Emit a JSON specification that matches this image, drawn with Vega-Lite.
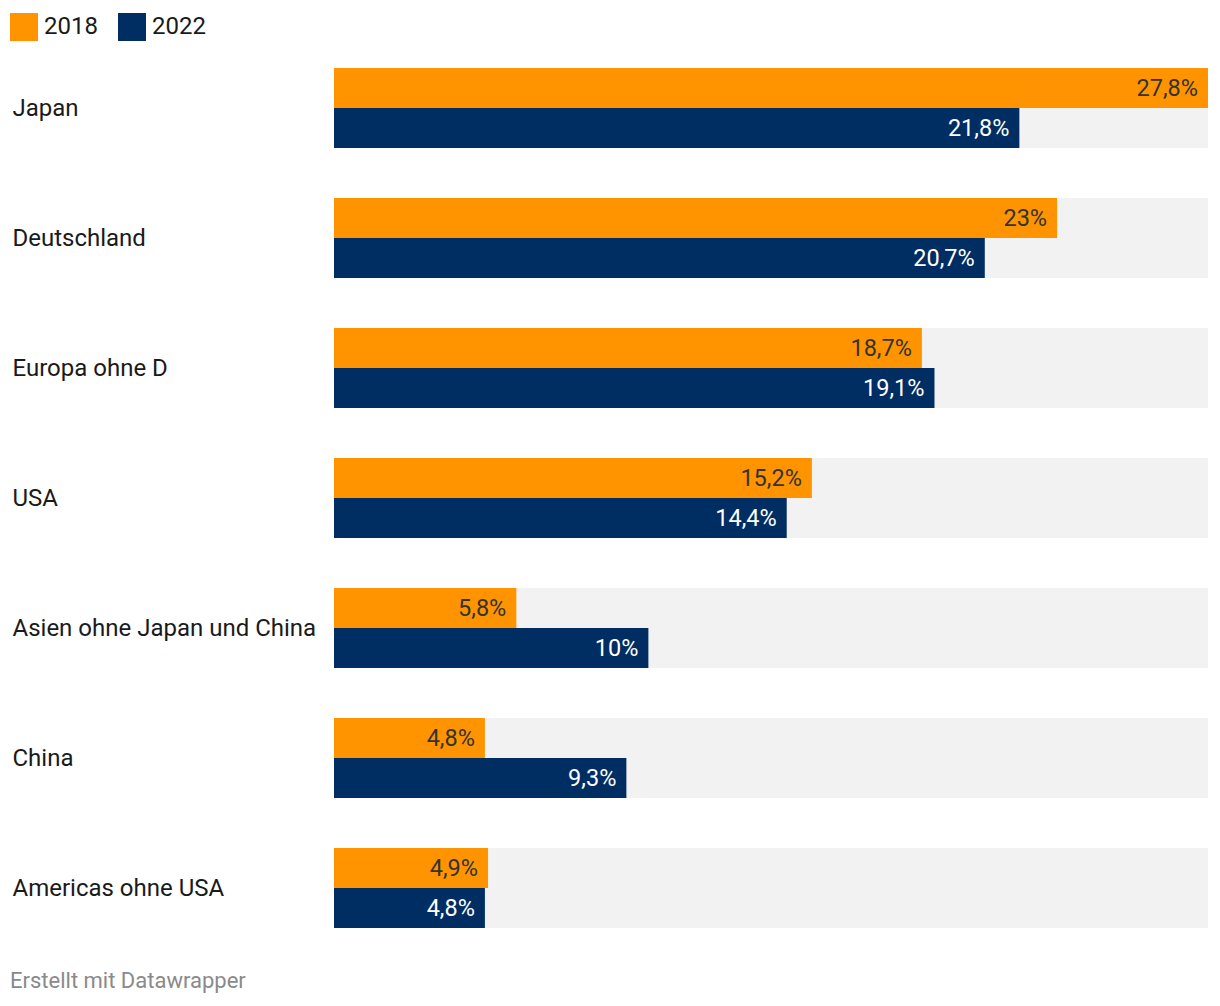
{
  "$schema": "https://vega.github.io/schema/vega-lite/v6.json",
  "autosize": {"type": "none"},
  "padding": {"left": 334, "top": 68, "right": 12, "bottom": 78},
  "width": 874,
  "height": 860,
  "background": "white",
  "config": {
    "view": {"stroke": null},
    "font": "Roboto",
    "title": {"font": "Roboto"}
  },
  "title": {
    "text": "Erstellt mit Datawrapper",
    "orient": "bottom",
    "anchor": "start",
    "frame": "bounds",
    "fontSize": 22,
    "fontWeight": "normal",
    "color": "#8a8a8a",
    "offset": 43,
    "dx": 0
  },
  "data": {
    "values": [
      {"region": "Japan", "year": "2018", "value": 27.8, "label": "27,8%"},
      {"region": "Japan", "year": "2022", "value": 21.8, "label": "21,8%"},
      {"region": "Deutschland", "year": "2018", "value": 23.0, "label": "23%"},
      {"region": "Deutschland", "year": "2022", "value": 20.7, "label": "20,7%"},
      {"region": "Europa ohne D", "year": "2018", "value": 18.7, "label": "18,7%"},
      {"region": "Europa ohne D", "year": "2022", "value": 19.1, "label": "19,1%"},
      {"region": "USA", "year": "2018", "value": 15.2, "label": "15,2%"},
      {"region": "USA", "year": "2022", "value": 14.4, "label": "14,4%"},
      {"region": "Asien ohne Japan und China", "year": "2018", "value": 5.8, "label": "5,8%"},
      {"region": "Asien ohne Japan und China", "year": "2022", "value": 10.0, "label": "10%"},
      {"region": "China", "year": "2018", "value": 4.8, "label": "4,8%"},
      {"region": "China", "year": "2022", "value": 9.3, "label": "9,3%"},
      {"region": "Americas ohne USA", "year": "2018", "value": 4.9, "label": "4,9%"},
      {"region": "Americas ohne USA", "year": "2022", "value": 4.8, "label": "4,8%"}
    ]
  },
  "encoding": {
    "y": {
      "field": "region",
      "type": "nominal",
      "sort": null,
      "scale": {"paddingInner": 0.3846, "paddingOuter": 0},
      "axis": {
        "title": null,
        "domain": false,
        "ticks": false,
        "tickSize": 0,
        "labelAlign": "left",
        "labelPadding": 322,
        "labelFontSize": 24,
        "labelColor": "#1a1a1a",
        "labelFont": "Roboto",
        "labelLimit": 400,
        "labelOffset": 1
      }
    }
  },
  "layer": [
    {
      "transform": [{"filter": "datum.year == '2018'"}],
      "mark": {"type": "bar", "color": "#f2f2f2"},
      "encoding": {
        "x": {"datum": 27.8, "type": "quantitative", "scale": {"domain": [0, 27.8], "nice": false, "zero": true}, "axis": null}
      }
    },
    {
      "mark": {"type": "bar"},
      "encoding": {
        "x": {"field": "value", "type": "quantitative", "scale": {"domain": [0, 27.8], "nice": false}, "axis": null},
        "yOffset": {"field": "year", "type": "nominal", "scale": {"paddingInner": 0, "paddingOuter": 0}},
        "color": {
          "field": "year",
          "type": "nominal",
          "scale": {"domain": ["2018", "2022"], "range": ["#ff9400", "#002d62"]},
          "legend": {
            "title": null,
            "orient": "none",
            "legendX": -324,
            "legendY": -55,
            "direction": "horizontal",
            "symbolType": "square",
            "symbolSize": 784,
            "symbolStrokeWidth": 0,
            "symbolOpacity": 1,
            "labelFontSize": 24,
            "labelFont": "Roboto",
            "labelColor": "#1a1a1a",
            "labelOffset": 6,
            "columnPadding": 20
          }
        }
      }
    },
    {
      "mark": {"type": "text", "align": "right", "baseline": "middle", "dx": -10, "dy": 1, "fontSize": 23.5, "font": "Roboto"},
      "encoding": {
        "x": {"field": "value", "type": "quantitative"},
        "yOffset": {"field": "year", "type": "nominal"},
        "text": {"field": "label"},
        "color": {
          "condition": {"test": "datum.year == '2022'", "value": "#ffffff"},
          "value": "#333333"
        }
      }
    }
  ]
}
